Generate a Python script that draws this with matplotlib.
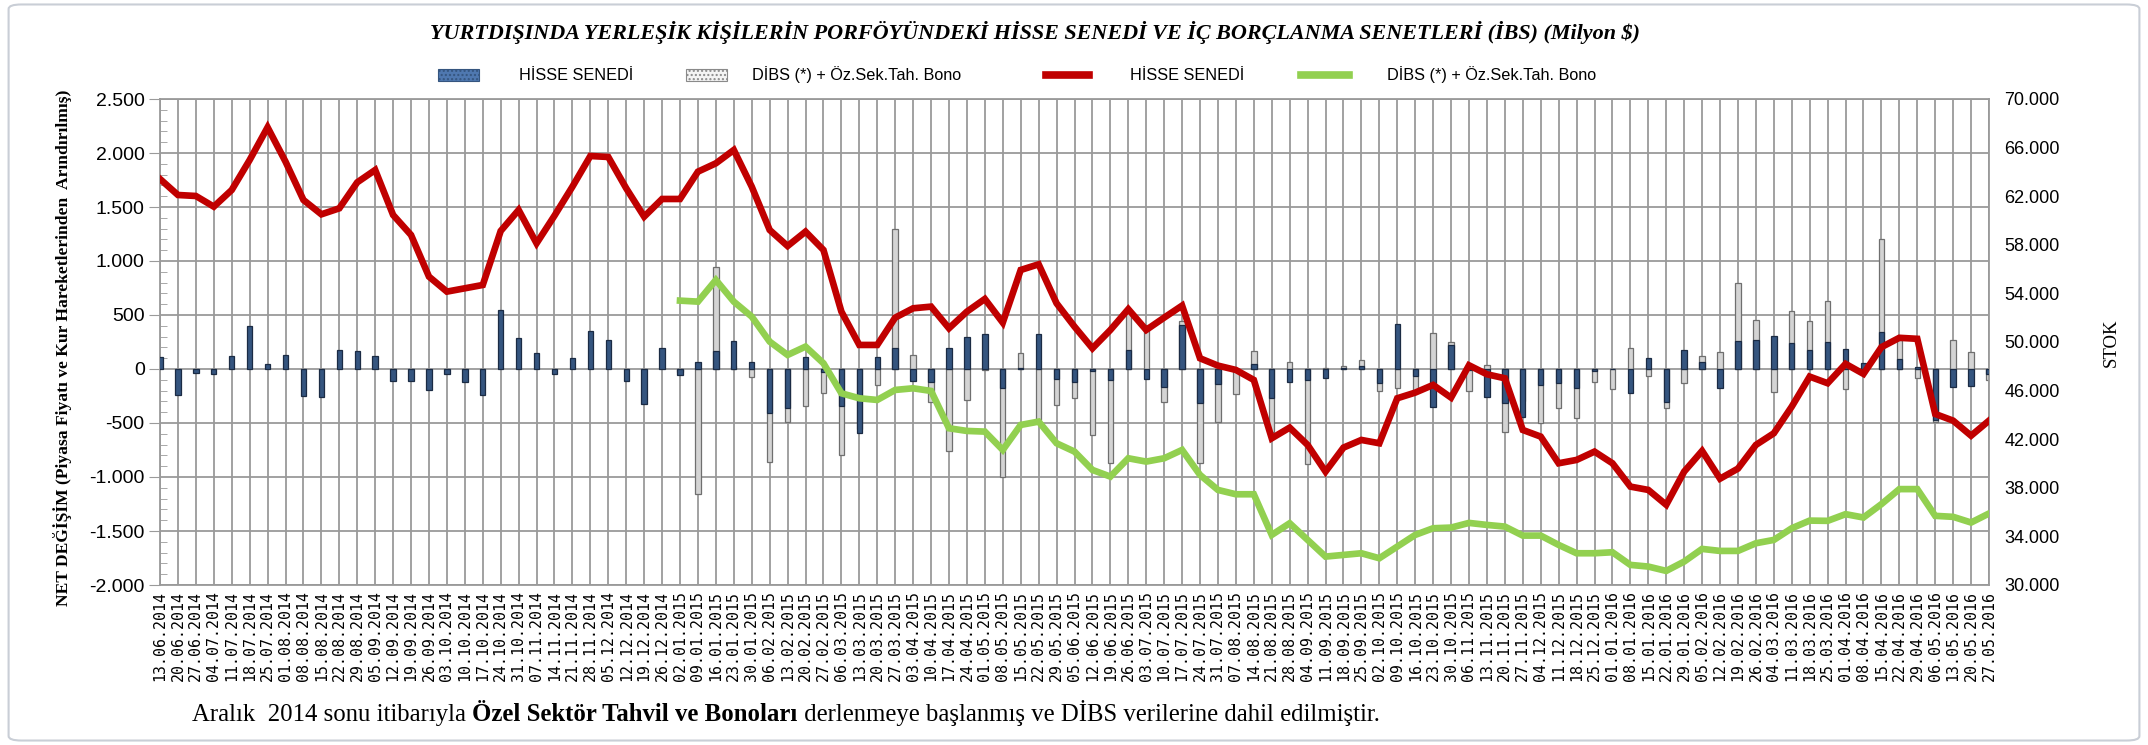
import numpy as np
import matplotlib
matplotlib.use("Agg")
import matplotlib.pyplot as plt
from matplotlib.patches import Rectangle, FancyBboxPatch
from matplotlib.lines import Line2D
from matplotlib.ticker import FuncFormatter, MultipleLocator, FixedLocator

dates = [
    "13.06.2014", "20.06.2014", "27.06.2014", "04.07.2014", "11.07.2014", "18.07.2014", "25.07.2014",
    "01.08.2014", "08.08.2014", "15.08.2014", "22.08.2014", "29.08.2014", "05.09.2014", "12.09.2014",
    "19.09.2014", "26.09.2014", "03.10.2014", "10.10.2014", "17.10.2014", "24.10.2014", "31.10.2014",
    "07.11.2014", "14.11.2014", "21.11.2014", "28.11.2014", "05.12.2014", "12.12.2014", "19.12.2014",
    "26.12.2014", "02.01.2015", "09.01.2015", "16.01.2015", "23.01.2015", "30.01.2015", "06.02.2015",
    "13.02.2015", "20.02.2015", "27.02.2015", "06.03.2015", "13.03.2015", "20.03.2015", "27.03.2015",
    "03.04.2015", "10.04.2015", "17.04.2015", "24.04.2015", "01.05.2015", "08.05.2015", "15.05.2015",
    "22.05.2015", "29.05.2015", "05.06.2015", "12.06.2015", "19.06.2015", "26.06.2015", "03.07.2015",
    "10.07.2015", "17.07.2015", "24.07.2015", "31.07.2015", "07.08.2015", "14.08.2015", "21.08.2015",
    "28.08.2015", "04.09.2015", "11.09.2015", "18.09.2015", "25.09.2015", "02.10.2015", "09.10.2015",
    "16.10.2015", "23.10.2015", "30.10.2015", "06.11.2015", "13.11.2015", "20.11.2015", "27.11.2015",
    "04.12.2015", "11.12.2015", "18.12.2015", "25.12.2015", "01.01.2016", "08.01.2016", "15.01.2016",
    "22.01.2016", "29.01.2016", "05.02.2016", "12.02.2016", "19.02.2016", "26.02.2016", "04.03.2016",
    "11.03.2016", "18.03.2016", "25.03.2016", "01.04.2016", "08.04.2016", "15.04.2016", "22.04.2016",
    "29.04.2016", "06.05.2016", "13.05.2016", "20.05.2016", "27.05.2016",
]

# Weekly net change, HİSSE SENEDİ (bars, left axis)
hisse_net = [
    108, -241, -40, -50, 120, 398, 43, 130, -250, -262, 176, 170, 120, -111, -111, -191, -43,
    -117, -241, 546, 290, 151, -49, 99, 352, 268, -111, -327, 191, -56, 68, 170, 262, 68,
    -410, -364, 108, -30, -339, -596, 108, 198, -108, -117, 198, 299, 321, -173, 10, 327,
    -93, -123, -15, -100, 176, -93, -164, 407, -318, -142, -20, 43, -272, -123, -102, -86,
    10, 31, -133, 414, -62, -349, 222, -10, -256, -318, -441, -148, -133, -179, -20, 0,
    -225, 105, -309, 176, 68, -179, 259, 268, 309, 238, 176, 250, 189, 60, 343, 96, 19,
    -476, -167, -161, -50,
]

# Weekly net change, DİBS (*) + Öz.Sek.Tah. Bono (bars, left axis) - starts 02.01.2015
dibs_net = [np.nan] * 29 + [
    -30, -1160, 947, 30, -71, -858, -494, -339, -219, -796, -560, -148, 1293, 130, -302,
    -759, -287, -10, -997, 151, -472, -333, -272, -611, -873, 531, 407, -309, 444, -873,
    -494, -231, 167, -580, 62, -883, 12, 28, 83, -204, -173, -204, 336, 253, -204, 37,
    -586, -300, -503, -358, -451, -117, -185, 198, -62, -358, -133, 120, 160, 793, 454,
    -216, 537, 444, 628, -182, -40, 1200, 266, -84, -492, 266, 158, -105,
]

# Stock, HİSSE SENEDİ (line, right axis)
hisse_stok = [
    63417, 62100, 62018, 61140, 62511, 64980, 67668, 64843, 61689, 60509, 61003, 63143,
    64157, 60454, 58808, 55380, 54146, 54420, 54694, 59138, 60866, 58123, 60399, 62786,
    65309, 65227, 62649, 60317, 61771, 61771, 64020, 64706, 65803, 62786, 59220, 57900,
    59083, 57574, 52500, 49757, 49757, 52006, 52774, 52911, 51128, 52500, 53542, 51594,
    55928, 56395, 53185, 51265, 49482, 50991, 52700, 50991, 52006, 52994, 48660, 48056,
    47700, 46877, 42076, 42954, 41528, 39333, 41308, 41939, 41665, 45368, 45834, 46465,
    45423, 48083, 47343, 47014, 42762, 42213, 40019, 40294, 40979, 40019, 38099, 37825,
    36600, 39333, 41034, 38750, 39580, 41528, 42488, 44682, 47151, 46607, 48200, 47376,
    49575, 50345, 50262, 44077, 43527, 42290, 43527,
]

# Stock, DİBS (*) + Öz.Sek.Tah. Bono (line, right axis)
dibs_stok = [np.nan] * 29 + [
    53405, 53322, 55105, 53322, 52088, 50031, 48934, 49620, 48248, 45780, 45368, 45231,
    46054, 46191, 45972, 42899, 42680, 42625, 41116, 43174, 43448, 41665, 40979, 39470,
    38922, 40431, 40157, 40431, 41116, 39059, 37825, 37468, 37468, 34122, 35082, 33711,
    32339, 32476, 32613, 32202, 33162, 34122, 34671, 34726, 35110, 34945, 34808, 34067,
    34067, 33299, 32613, 32613, 32696, 31654, 31517, 31160, 31928, 32970, 32805, 32805,
    33436, 33711, 34671, 35300, 35280, 35830, 35555, 36655, 37892, 37892, 35692, 35610,
    35142, 35885,
]

left_ticks = [-2000, -1500, -1000, -500, 0, 500, 1000, 1500, 2000, 2500]
right_ticks = [30000, 34000, 38000, 42000, 46000, 50000, 54000, 58000, 62000, 66000, 70000]

title = "YURTDIŞINDA YERLEŞİK KİŞİLERİN PORFÖYÜNDEKİ HİSSE SENEDİ VE İÇ BORÇLANMA SENETLERİ (İBS) (Milyon $)"
lbl_hisse = "HİSSE SENEDİ"
lbl_dibs = "DİBS (*) + Öz.Sek.Tah. Bono"

SERIF = "Liberation Serif"
SANS = "Liberation Sans"
plt.rcParams["font.family"] = [SANS, "DejaVu Sans"]

W, H = 2148, 745
fig = plt.figure(figsize=(W / 100, H / 100), dpi=100)
fig.patch.set_facecolor("white")
border = FancyBboxPatch((0.004, 0.006), 0.992, 0.988, boxstyle="round,pad=0,rounding_size=0.006",
                        transform=fig.transFigure, facecolor="none", edgecolor="#c9ced6", linewidth=1.5)
fig.patches.append(border)

ax = fig.add_axes([160 / W, 1 - 585 / H, (1989 - 160) / W, (585 - 99) / H])
ax2 = ax.twinx()

x = np.arange(len(dates))
grid_c = "#9a9a9a"

ax.set_xlim(0, len(dates) - 1)
ax.set_ylim(-2000, 2500)
ax2.set_ylim(30000, 70000)
ax.set_xticks(x)
ax.set_xticklabels(dates, rotation=90, family="DejaVu Sans Mono", fontsize=10.7)
ax.yaxis.set_major_locator(FixedLocator(left_ticks))
ax.yaxis.set_minor_locator(MultipleLocator(100))
ax2.yaxis.set_major_locator(FixedLocator(right_ticks))
fmt = FuncFormatter(lambda v, p: f"{v:,.0f}".replace(",", "."))
ax.yaxis.set_major_formatter(fmt)
ax2.yaxis.set_major_formatter(fmt)
ax.grid(True, which="major", axis="both", color=grid_c, linewidth=1.3)
ax.set_axisbelow(True)
for s in ax.spines.values():
    s.set_color(grid_c)
    s.set_linewidth(1.3)
for s in ax2.spines.values():
    s.set_visible(False)

ax.tick_params(axis="x", length=0, pad=4)
ax.tick_params(axis="y", which="major", length=8, color=grid_c, direction="out", labelsize=14, pad=3)
ax.tick_params(axis="y", which="minor", length=5, color=grid_c, direction="in")
ax2.tick_params(axis="y", length=0, labelsize=13, pad=11)

# bars
bw = 0.3
ax.bar(x, dibs_net, width=bw, color="#d4d4d4", edgecolor="#6f6f6f", linewidth=0.9, zorder=2)
ax.bar(x, hisse_net, width=bw, color="#35557f", edgecolor="#1b2b44", linewidth=0.9, zorder=3)

# lines on right axis (drawn above bars)
ax2.set_zorder(ax.get_zorder() + 1)
ax2.patch.set_visible(False)
ax2.plot(x, hisse_stok, color="#c00000", linewidth=4.8, solid_joinstyle="miter", zorder=4)
ax2.plot(x, dibs_stok, color="#92d050", linewidth=4.8, solid_joinstyle="miter", zorder=4)
ax2.set_xlim(0, len(dates) - 1)

# titles and labels
fig.text(1035 / W, 1 - 33 / H, title, ha="center", va="center", family=SERIF, style="italic",
         weight="bold", fontsize=15.9)
fig.text(0.029, 0.533, "NET DEĞİŞİM (Piyasa Fiyatı ve Kur Hareketlerinden  Arındırılmış)",
         rotation=90, ha="center", va="center", family=SERIF, weight="bold", fontsize=12.6)
fig.text(0.983, 0.54, "STOK", rotation=90, ha="center", va="center", family=SERIF, fontsize=13.5)

# legend (manually placed)
ly = 1 - 75 / H
ph = 12 / H
fig.patches.append(Rectangle((438 / W, ly - ph / 2), 41 / W, ph, transform=fig.transFigure,
                             facecolor="#4f78b0", edgecolor="#35557f", hatch="....", linewidth=0.8))
fig.patches.append(Rectangle((686 / W, ly - ph / 2), 41 / W, ph, transform=fig.transFigure,
                             facecolor="#f4f4f4", edgecolor="#8a8a8a", hatch="....", linewidth=0.8))
fig.lines.append(Line2D([1046 / W, 1089 / W], [ly, ly], transform=fig.transFigure,
                        color="#c00000", linewidth=5.5))
fig.lines.append(Line2D([1301 / W, 1349 / W], [ly, ly], transform=fig.transFigure,
                        color="#92d050", linewidth=5.5))
for xx, lab in [(519, lbl_hisse), (752, lbl_dibs), (1130, lbl_hisse), (1387, lbl_dibs)]:
    fig.text(xx / W, ly, lab, ha="left", va="center", family=SANS, fontsize=11.7)

# footnote with bold part
fs = 17.8
t1 = fig.text(192 / W, 1 - 721 / H, "Aralık  2014 sonu itibarıyla ", family=SERIF, fontsize=fs,
              ha="left", va="baseline")
t2 = ax.annotate("Özel Sektör Tahvil ve Bonoları", xy=(1, 0), xycoords=t1, va="bottom",
                 family=SERIF, fontsize=fs, weight="bold", annotation_clip=False)
t3 = ax.annotate(" derlenmeye başlanmış ve DİBS verilerine dahil edilmiştir.", xy=(1, 0), xycoords=t2,
                 va="bottom", family=SERIF, fontsize=fs, annotation_clip=False)

fig.savefig("out.png", dpi=100, facecolor="white")
